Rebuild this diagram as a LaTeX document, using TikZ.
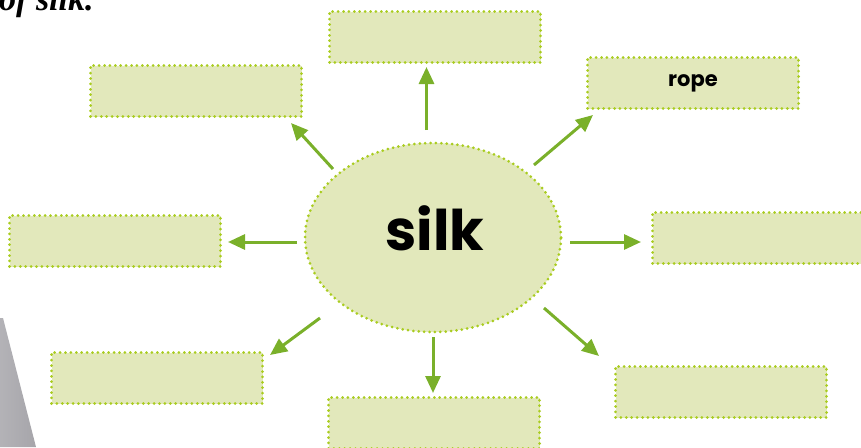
\documentclass[tikz,border=0pt]{standalone}
\usepackage{fontspec}
\setmainfont{Liberation Serif}
\newfontfamily\handfont{Poppins}
\usetikzlibrary{arrows.meta,shapes.geometric}
\definecolor{boxfill}{HTML}{E2E8BB}
\definecolor{dotline}{HTML}{A9CC1F}
\definecolor{arrowgreen}{HTML}{7AB02A}
\definecolor{wedgegray}{HTML}{A6A5AA}
\tikzset{
  dotborder/.style={draw=dotline, line width=3pt, line cap=round,
    dash pattern=on 0pt off 5.4pt},
  ideabox/.style={dotborder, fill=boxfill, minimum width=211pt, minimum height=51pt,
    inner sep=0pt, anchor=north west, font=\handfont\bfseries\fontsize{21}{21}\selectfont},
  hub/.style={ellipse, dotborder, fill=boxfill, minimum width=256pt, minimum height=189pt,
    inner sep=0pt},
  hubtext/.style={inner sep=0pt, font=\handfont\bfseries\fontsize{56}{56}\selectfont},
  spoke/.style={draw=arrowgreen, line width=3pt,
    -{Triangle[length=17pt,width=15pt,fill=arrowgreen]}}
}
\begin{document}
\begin{tikzpicture}[x=1pt,y=-1pt]
\useasboundingbox (0,0) rectangle (861,447);
\begin{scope}
\clip (0,0) rectangle (861,447);
% grey wedge in the lower left corner
\shade[left color=wedgegray!85, right color=wedgegray] (0,318) -- (3,318) -- (36,447) -- (0,447) -- cycle;
% heading fragment
\node[anchor=base west, inner sep=0pt, font=\fontsize{34}{34}\selectfont\bfseries\itshape] (head) at (-1,10) {of silk.};
% centre ellipse and its word, set a little above the middle
\node[hub] (silk) at (433,237.5) {};
\node[hubtext] (silkword) at (435,228) {silk};
% surrounding boxes
\node[ideabox] (bT)  at (328,10)  {};
\node[ideabox] (bTL) at (89,64)   {};
\node[ideabox] (bTR) at (586,56)  {rope};
\node[ideabox] (bL)  at (8,214)   {};
\node[ideabox] (bR)  at (651,211) {};
\node[ideabox] (bBL) at (50,351)  {};
\node[ideabox] (bBR) at (614,365) {};
\node[ideabox] (bB)  at (327,396) {};
% arrow ends
\coordinate (t1) at (426.5,130); \coordinate (h1) at (426.5,67);
\coordinate (t2) at (333,169);   \coordinate (h2) at (291,123);
\coordinate (t3) at (534,165);   \coordinate (h3) at (593,115);
\coordinate (t4) at (297,242);   \coordinate (h4) at (228,242);
\coordinate (t5) at (570,242);   \coordinate (h5) at (641,242);
\coordinate (t6) at (320,318);   \coordinate (h6) at (270,355);
\coordinate (t7) at (433,337);   \coordinate (h7) at (433,393);
\coordinate (t8) at (544,308);   \coordinate (h8) at (599,356);
\foreach \i in {1,...,8} \draw[spoke] (t\i) -- (h\i);
\end{scope}
\end{tikzpicture}
\end{document}
